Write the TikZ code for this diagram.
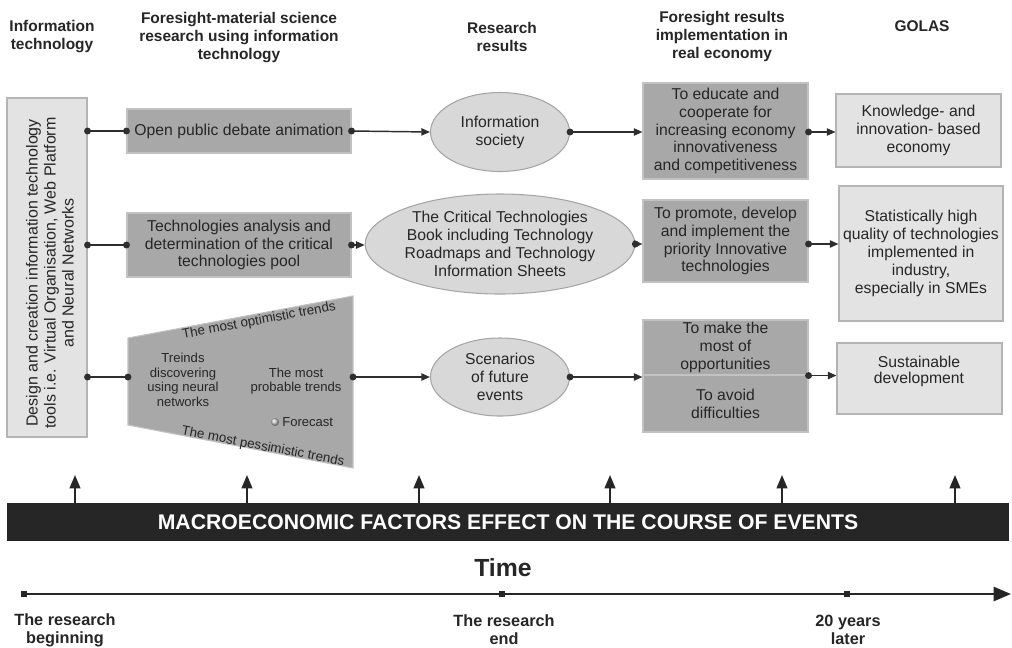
\documentclass[tikz,border=0pt]{standalone}
\usepackage{fontspec}
\setmainfont{Liberation Sans}
\usetikzlibrary{shapes.geometric,arrows.meta,calc,shadings}
\definecolor{dbox}{HTML}{A8A8A8}
\definecolor{dboxb}{HTML}{C2C2C2}
\definecolor{lbox}{HTML}{E3E3E3}
\definecolor{lboxb}{HTML}{B4B4B4}
\definecolor{ell}{HTML}{D8D8D8}
\definecolor{ellb}{HTML}{A6A6A6}
\definecolor{ln}{HTML}{2E2E2E}
\definecolor{txt}{HTML}{262626}
\definecolor{barc}{HTML}{262626}
\newcommand\dotat[1]{\fill[ln] (#1) circle (2.6pt);}
\begin{document}
\begin{tikzpicture}[x=0.75pt,y=-0.75pt,
 pbox/.style n args={4}{at={({(#1+#3)/2},{(#2+#4)/2})},
   minimum width={(#3-#1)*0.75pt}, minimum height={(#4-#2)*0.75pt}},
 body/.style={font=\fontsize{11.8}{13.4}\selectfont, text=txt, align=center},
 darkbox/.style={body, fill=dbox, draw=dboxb, line width=0.8pt, inner sep=0pt},
 lightbox/.style={body, fill=lbox, draw=lboxb, line width=0.8pt, inner sep=0pt},
 ellnode/.style={body, ellipse, fill=ell, draw=ellb, line width=0.8pt, inner sep=0pt},
 head/.style={font=\bfseries\fontsize{11.6}{13.5}\selectfont, align=center, text=txt},
 conn/.style={draw=ln, line width=1.1pt},
 arr/.style={conn, -{Triangle[length=6.5pt,width=5.5pt]}},
 uparr/.style={draw=barc, line width=1.5pt, -{Triangle[length=10pt,width=8pt]}},
 small/.style={font=\fontsize{9.8}{10.9}\selectfont, text=txt, align=center},
 blabel/.style={font=\bfseries\fontsize{12.2}{13.5}\selectfont, align=center, text=txt},
 tick/.style={fill=barc, minimum size=5pt, inner sep=0pt},
]
\useasboundingbox (0,0) rectangle (1012,647);
\fill[white] (0,0) rectangle (1012,647);

% headings
\node[head] (h1) at (52,37) {Information\\technology};
\node[head] (h2) at (239,38) {Foresight-material science\\research using information\\technology};
\node[head] (h3) at (502,37) {Research\\results};
\node[head] (h4) at (722,36) {Foresight results\\implementation in\\real economy};
\node[head] (h5) at (922,26) {GOLAS};

% left column
\node[lightbox, pbox={7}{98}{87}{437}] (left) {};
\node[body, rotate=90, font=\fontsize{12}{13.5}\selectfont] (lefttxt) at (50,273)
 {Design and creation information technology\\tools i.e. Virtual Organisation, Web Platform\\and Neural Networks};

% column 2
\node[darkbox, pbox={127}{109}{351}{153}] (b1) {Open public debate animation};
\node[darkbox, pbox={127}{213}{351}{277}] (b2) {Technologies analysis and\\determination of the critical\\technologies pool};
\coordinate (trTL) at (128,338);
\coordinate (trTR) at (353,296);
\coordinate (trBR) at (353,468);
\coordinate (trBL) at (128,425);
\coordinate (trL) at (128,377);
\coordinate (trR) at (353,377);
\filldraw[fill=dbox, draw=dboxb, line width=0.8pt] (trTL) -- (trTR) -- (trBR) -- (trBL) -- cycle;
\node[small, rotate=10.6, font=\fontsize{10}{11}\selectfont] (opt) at (259,321) {The most optimistic trends};
\node[small, rotate=-10.8, font=\fontsize{10}{11}\selectfont] (pes) at (263,447) {The most pessimistic trends};
\node[small] (treinds) at (183,380) {Treinds\\discovering\\using neural\\networks};
\node[small] (prob) at (296,381) {The most\\probable trends};
\shade[ball color=gray!40] (275,422) circle (3pt);
\node[small, anchor=west, inner sep=0pt] (fc) at (282,422) {Forecast};

% column 3
\node[ellnode, minimum width=104.25pt, minimum height=59.25pt] (e1) at (500,132) {Information\\society};
\node[ellnode, minimum width=176.25pt, minimum height=75pt] (e2) at (500,244) {The Critical Technologies\\Book including Technology\\Roadmaps and Technology\\Information Sheets};
\node[ellnode, minimum width=104.25pt, minimum height=58.5pt] (e3) at (500,377) {Scenarios\\of future\\events};

% column 4
\node[darkbox, pbox={643}{83}{808}{179}] (bA) {To educate and\\cooperate for\\increasing economy\\innovativeness\\and competitiveness};
\node[darkbox, pbox={643}{200}{808}{282}] (bB) {To promote, develop\\and implement the\\priority Innovative\\technologies};
\node[darkbox, pbox={643}{320}{808}{375}] (bC1) {To make the\\most of\\opportunities};
\node[darkbox, pbox={643}{375}{808}{432}] (bC2) {To avoid\\difficulties};

% column 5
\node[lightbox, pbox={836}{94}{1001}{167}] (gA) {Knowledge- and\\innovation- based\\economy};
\node[lightbox, pbox={839}{186}{1003}{321}] (gB) {Statistically high\\quality of technologies\\implemented in\\industry,\\especially in SMEs};
\node[lightbox, pbox={837}{343}{1002}{414}] (gC) {};
\node[body, font=\fontsize{11.8}{12}\selectfont] (gCt) at (919,371) {Sustainable\\development};

% row 1 connectors
\draw[conn] (left.east |- b1.west) -- (b1.west);
\dotat{left.east |- b1.west} \dotat{b1.west}
\draw[arr] (b1.east) -- (e1.west);
\dotat{b1.east}
\draw[arr] (e1.east) -- (e1.east -| bA.west);
\dotat{e1.east}
\draw[arr] (bA.east |- e1.east) -- (e1.east -| gA.west);
\dotat{bA.east |- e1.east}

% row 2 connectors
\draw[conn] (left.east |- b2.west) -- (b2.west);
\dotat{left.east |- b2.west} \dotat{b2.west}
\draw[arr] (b2.east) -- (b2.east -| e2.west);
\dotat{b2.east}
\draw[arr] (e2.east) -- (e2.east -| bB.west);
\dotat{e2.east}
\draw[arr] (bB.east |- e2.east) -- (e2.east -| gB.west);
\dotat{bB.east |- e2.east}

% row 3 connectors
\draw[conn] (left.east |- trL) -- (trL);
\dotat{left.east |- trL} \dotat{trL}
\draw[arr] (trR) -- (e3.west);
\dotat{trR}
\draw[arr] (e3.east) -- (e3.east -| bC1.west);
\dotat{e3.east}
\draw[arr] (bC1.south east) -- (bC1.south east -| gC.west);
\dotat{bC1.south east}

% macroeconomic bar
\node[pbox={7}{503}{1009}{541}, fill=barc, inner sep=0pt, text=white,
 font=\bfseries\fontsize{15.9}{18}\selectfont] (bar) {MACROECONOMIC FACTORS EFFECT ON THE COURSE OF EVENTS};
\foreach \x [count=\i] in {75,247,419,610,782,955} {
  \coordinate (up\i) at (\x,475);
  \draw[uparr] (up\i |- bar.north) -- (up\i);
}

% time axis
\node[font=\bfseries\fontsize{18.6}{20}\selectfont, text=txt] (time) at (503,568) {Time};
\coordinate (t0) at (23,594);
\coordinate (tend) at (1011,594);
\draw[draw=barc, line width=2pt, -{Triangle[length=13pt,width=10.5pt]}] (t0) -- (tend);
\node[tick] (m1) at (24,594) {};
\node[tick] (m2) at (502,594) {};
\node[tick] (m3) at (847,594) {};
\node[blabel] (l1) at (65,630) {The research\\beginning};
\node[blabel] (l2) at (504,630) {The research\\end};
\node[blabel] (l3) at (848,630) {20 years\\later};
\end{tikzpicture}
\end{document}
